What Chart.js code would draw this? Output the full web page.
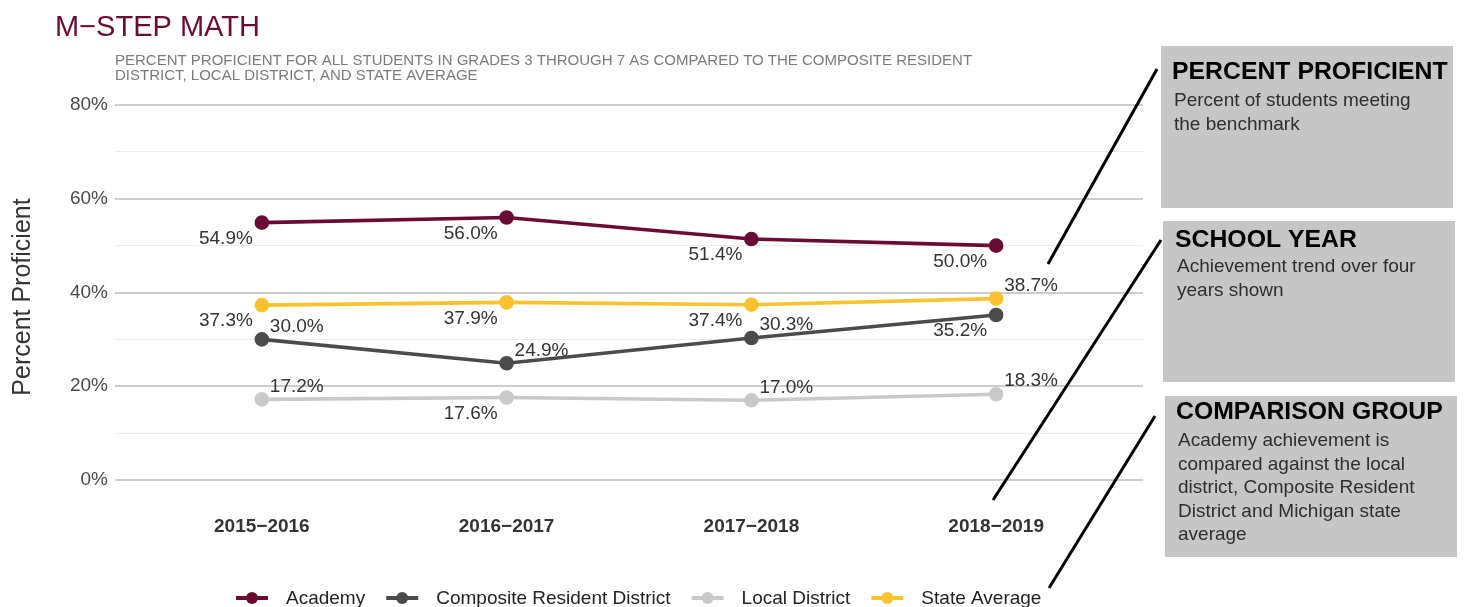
<!DOCTYPE html>
<html>
<head>
<meta charset="utf-8">
<script src="https://cdn.jsdelivr.net/npm/chart.js@4/dist/chart.umd.min.js"></script>
<style>
  html, body { margin: 0; padding: 0; background: #ffffff; }
  #wrap { width: 1465px; height: 607px; position: relative; }
</style>
</head>
<body>
<div id="wrap"><canvas id="c" width="1465" height="607"></canvas></div>
<script>
// ---- data ----
const years = ["2015\u22122016", "2016\u22122017", "2017\u22122018", "2018\u22122019"];
const academy = [54.9, 56.0, 51.4, 50.0];
const composite = [30.0, 24.9, 30.3, 35.2];
const localDistrict = [17.2, 17.6, 17.0, 18.3];
const stateAverage = [37.3, 37.9, 37.4, 38.7];
const seriesNames = ["Academy", "Composite Resident District", "Local District", "State Average"];
const yTickValues = [0, 10, 20, 30, 40, 50, 60, 70, 80];

// label placement per series: 'L' = left-below, 'R' = right-above
const labelSides = [
  ['L', 'L', 'L', 'L'],
  ['R', 'R', 'R', 'L'],
  ['R', 'L', 'R', 'R'],
  ['L', 'L', 'L', 'R']
];

const colors = ['#6b0b34', '#4b4b4b', '#c9c9c9', '#fbc12e'];
const FONT = '"Liberation Sans", Arial, Helvetica, sans-serif';

const seriesData = [academy, composite, localDistrict, stateAverage];

const datasets = seriesData.map((arr, si) => ({
  label: seriesNames[si],
  data: arr.map((v, i) => ({ x: i, y: v })),
  borderColor: colors[si],
  backgroundColor: colors[si],
  pointBackgroundColor: colors[si],
  pointBorderColor: colors[si],
  borderWidth: 3.6,
  pointRadius: 5.5,
  pointHoverRadius: 5.5,
  tension: 0,
  fill: false
}));

const decorPlugin = {
  id: 'decor',
  afterDatasetsDraw(chart) {
    const ctx = chart.ctx;
    ctx.save();
    // data labels
    ctx.font = '19px ' + FONT;
    ctx.fillStyle = '#333333';
    ctx.textBaseline = 'middle';
    chart.data.datasets.forEach((ds, si) => {
      const meta = chart.getDatasetMeta(si);
      meta.data.forEach((pt, i) => {
        const txt = seriesData[si][i].toFixed(1) + '%';
        if (labelSides[si][i] === 'L') {
          ctx.textAlign = 'right';
          ctx.fillText(txt, pt.x - 9, pt.y + 16);
        } else {
          ctx.textAlign = 'left';
          ctx.fillText(txt, pt.x + 8, pt.y - 13);
        }
      });
    });
    ctx.restore();
  },
  afterDraw(chart) {
    const ctx = chart.ctx;
    ctx.save();
    // title
    ctx.textAlign = 'left';
    ctx.textBaseline = 'alphabetic';
    ctx.fillStyle = '#6b0b34';
    ctx.font = '29px ' + FONT;
    ctx.fillText('M\u2212STEP MATH', 55, 36);
    // subtitle
    ctx.fillStyle = '#7a7a7a';
    ctx.font = '15px ' + FONT;
    ctx.fillText('PERCENT PROFICIENT FOR ALL STUDENTS IN GRADES 3 THROUGH 7 AS COMPARED TO THE COMPOSITE RESIDENT', 115, 65);
    ctx.fillText('DISTRICT, LOCAL DISTRICT, AND STATE AVERAGE', 115, 80);

    // y axis title
    ctx.save();
    ctx.translate(30, 297);
    ctx.rotate(-Math.PI / 2);
    ctx.textAlign = 'center';
    ctx.textBaseline = 'alphabetic';
    ctx.fillStyle = '#333333';
    ctx.font = '25px ' + FONT;
    ctx.fillText('Percent Proficient', 0, 0);
    ctx.restore();

    // legend
    let lx = 236;
    const ly = 598;
    ctx.font = '19px ' + FONT;
    ctx.textBaseline = 'middle';
    ctx.textAlign = 'left';
    seriesNames.forEach((name, si) => {
      ctx.strokeStyle = colors[si];
      ctx.lineWidth = 4;
      ctx.beginPath();
      ctx.moveTo(lx, ly);
      ctx.lineTo(lx + 32, ly);
      ctx.stroke();
      ctx.fillStyle = colors[si];
      ctx.beginPath();
      ctx.arc(lx + 16, ly, 6, 0, Math.PI * 2);
      ctx.fill();
      ctx.fillStyle = '#222222';
      const tx = lx + 50;
      ctx.fillText(name, tx, ly + 1);
      lx = tx + ctx.measureText(name).width + 21;
    });

    // annotation boxes
    const boxes = [
      { x: 1161, y: 46, w: 292, h: 162, head: 'PERCENT PROFICIENT', hy: 79, tx: 1172,
        lines: ['Percent of students meeting', 'the benchmark'], by: 106 },
      { x: 1163, y: 221, w: 292, h: 161, head: 'SCHOOL YEAR', hy: 247, tx: 1175,
        lines: ['Achievement trend over four', 'years shown'], by: 272 },
      { x: 1165, y: 396, w: 292, h: 161, head: 'COMPARISON GROUP', hy: 419, tx: 1176,
        lines: ['Academy achievement is', 'compared against the local', 'district, Composite Resident', 'District and Michigan state', 'average'], by: 446 }
    ];
    boxes.forEach(b => {
      ctx.fillStyle = '#c6c6c6';
      ctx.fillRect(b.x, b.y, b.w, b.h);
      ctx.textBaseline = 'alphabetic';
      ctx.fillStyle = '#000000';
      ctx.font = 'bold 24.8px ' + FONT;
      ctx.fillText(b.head, b.tx, b.hy);
      ctx.fillStyle = '#2e2e2e';
      ctx.font = '19px ' + FONT;
      b.lines.forEach((ln, k) => ctx.fillText(ln, b.tx + 2, b.by + k * 23.5));
    });

    // connector lines
    ctx.strokeStyle = '#000000';
    ctx.lineWidth = 3;
    ctx.lineCap = 'butt';
    [[1048, 264, 1157, 69], [993, 500, 1161, 240], [1049, 588, 1155, 416]].forEach(l => {
      ctx.beginPath();
      ctx.moveTo(l[0], l[1]);
      ctx.lineTo(l[2], l[3]);
      ctx.stroke();
    });
    ctx.restore();
  }
};

new Chart(document.getElementById('c'), {
  type: 'line',
  data: { datasets },
  options: {
    responsive: false,
    devicePixelRatio: 1,
    animation: false,
    events: [],
    layout: { padding: { left: 0, right: 322, top: 105, bottom: 0 } },
    plugins: { legend: { display: false }, tooltip: { enabled: false }, title: { display: false } },
    scales: {
      x: {
        type: 'linear',
        min: -0.6,
        max: 3.6,
        afterBuildTicks(scale) { scale.ticks = years.map((_, i) => ({ value: i })); },
        afterFit(scale) { scale.height = 127; },
        grid: { display: false, drawTicks: false },
        border: { display: false },
        ticks: {
          autoSkip: false,
          maxRotation: 0,
          padding: 35,
          color: '#333333',
          font: { family: FONT, size: 19, weight: 'bold' },
          callback: (v) => years[v] !== undefined ? years[v] : ''
        }
      },
      y: {
        type: 'linear',
        min: 0,
        max: 80,
        afterBuildTicks(scale) { scale.ticks = yTickValues.map(v => ({ value: v })); },
        afterFit(scale) { scale.width = 115; },
        grid: {
          drawTicks: false,
          color: (c) => (c.tick && c.tick.value % 20 === 0) ? '#cccccc' : '#ececec',
          lineWidth: (c) => (c.tick && c.tick.value % 20 === 0) ? 2 : 1
        },
        border: { display: false },
        ticks: {
          autoSkip: false,
          padding: 7,
          color: '#4a4a4a',
          font: { family: FONT, size: 19 },
          callback: (v) => (v % 20 === 0) ? v + '%' : ''
        }
      }
    }
  },
  plugins: [decorPlugin]
});
</script>
</body>
</html>
